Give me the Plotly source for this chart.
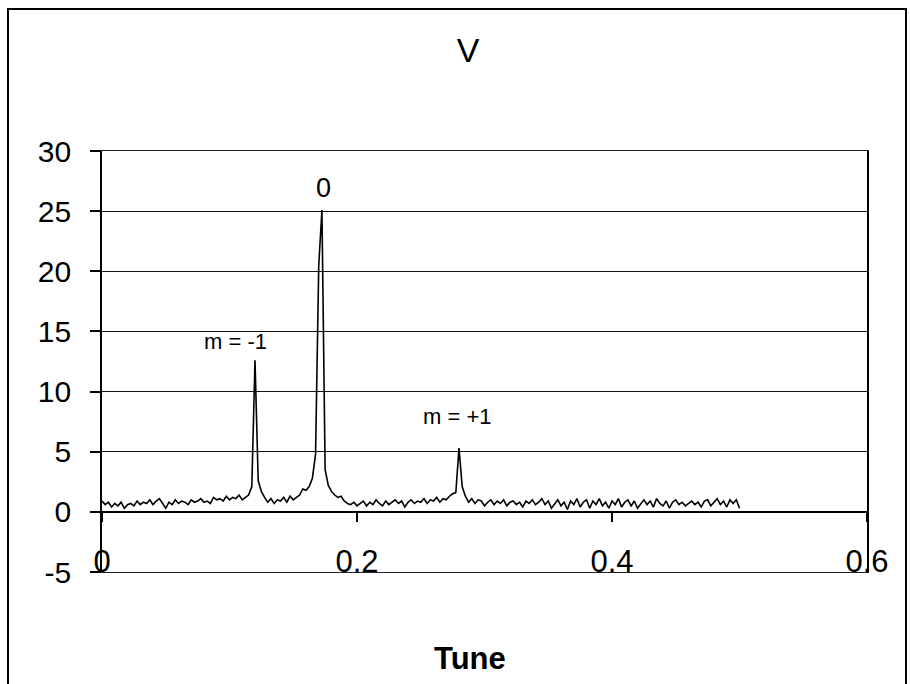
import plotly.graph_objects as go

# Tune spectrum: fractional tune vs. amplitude V
tune = [
    0.0000, 0.0025, 0.0050, 0.0075, 0.0100, 0.0125, 0.0150, 0.0175, 0.0200, 0.0225,
    0.0250, 0.0275, 0.0300, 0.0325, 0.0350, 0.0375, 0.0400, 0.0425, 0.0450, 0.0475,
    0.0500, 0.0525, 0.0550, 0.0575, 0.0600, 0.0625, 0.0650, 0.0675, 0.0700, 0.0725,
    0.0750, 0.0775, 0.0800, 0.0825, 0.0850, 0.0875, 0.0900, 0.0925, 0.0950, 0.0975,
    0.1000, 0.1025, 0.1050, 0.1075, 0.1100, 0.1125, 0.1150, 0.1175, 0.1200, 0.1225,
    0.1250, 0.1275, 0.1300, 0.1325, 0.1350, 0.1375, 0.1400, 0.1425, 0.1450, 0.1475,
    0.1500, 0.1525, 0.1550, 0.1575, 0.1600, 0.1625, 0.1650, 0.1675, 0.1700, 0.1725,
    0.1750, 0.1775, 0.1800, 0.1825, 0.1850, 0.1875, 0.1900, 0.1925, 0.1950, 0.1975,
    0.2000, 0.2025, 0.2050, 0.2075, 0.2100, 0.2125, 0.2150, 0.2175, 0.2200, 0.2225,
    0.2250, 0.2275, 0.2300, 0.2325, 0.2350, 0.2375, 0.2400, 0.2425, 0.2450, 0.2475,
    0.2500, 0.2525, 0.2550, 0.2575, 0.2600, 0.2625, 0.2650, 0.2675, 0.2700, 0.2725,
    0.2750, 0.2775, 0.2800, 0.2825, 0.2850, 0.2875, 0.2900, 0.2925, 0.2950, 0.2975,
    0.3000, 0.3025, 0.3050, 0.3075, 0.3100, 0.3125, 0.3150, 0.3175, 0.3200, 0.3225,
    0.3250, 0.3275, 0.3300, 0.3325, 0.3350, 0.3375, 0.3400, 0.3425, 0.3450, 0.3475,
    0.3500, 0.3525, 0.3550, 0.3575, 0.3600, 0.3625, 0.3650, 0.3675, 0.3700, 0.3725,
    0.3750, 0.3775, 0.3800, 0.3825, 0.3850, 0.3875, 0.3900, 0.3925, 0.3950, 0.3975,
    0.4000, 0.4025, 0.4050, 0.4075, 0.4100, 0.4125, 0.4150, 0.4175, 0.4200, 0.4225,
    0.4250, 0.4275, 0.4300, 0.4325, 0.4350, 0.4375, 0.4400, 0.4425, 0.4450, 0.4475,
    0.4500, 0.4525, 0.4550, 0.4575, 0.4600, 0.4625, 0.4650, 0.4675, 0.4700, 0.4725,
    0.4750, 0.4775, 0.4800, 0.4825, 0.4850, 0.4875, 0.4900, 0.4925, 0.4950, 0.4975,
    0.5000,
]

volts = [
    0.9, 0.6, 0.8, 0.4, 0.7, 0.5, 0.8, 0.3, 0.6, 0.7,
    0.5, 0.9, 0.6, 0.8, 0.7, 1.0, 0.6, 0.9, 1.1, 0.7,
    0.3, 0.8, 0.6, 1.0, 0.7, 0.9, 0.8, 0.6, 1.0, 0.8,
    0.9, 1.1, 0.8, 0.9, 0.7, 1.2, 1.0, 1.1, 0.9, 1.3,
    1.0, 1.2, 1.1, 1.4, 1.0, 1.2, 1.4, 2.1, 12.6, 2.6,
    1.7, 1.2, 0.8, 1.1, 0.7, 1.0, 0.9, 1.2, 0.8, 1.3,
    1.0, 1.2, 1.4, 1.9, 1.8, 2.1, 2.8, 4.8, 20.5, 25.1,
    3.5, 2.2, 1.7, 1.4, 1.2, 1.3, 0.9, 0.7, 0.6, 0.8,
    0.5, 0.7, 0.9, 0.5, 0.8, 0.6, 1.0, 0.7, 0.5, 0.9,
    0.6, 0.8, 1.0, 0.7, 0.9, 0.4, 0.8, 1.0, 0.7, 0.9,
    0.8, 1.1, 0.7, 1.0, 0.9, 1.2, 0.8, 1.1, 1.0, 1.3,
    1.5, 1.6, 5.3, 2.1, 1.3, 0.8, 1.1, 0.7, 1.0, 0.9,
    0.5, 0.8, 1.0, 0.6, 0.9, 0.7, 1.0, 0.5, 0.8, 0.9,
    0.6, 0.8, 0.4, 0.9, 0.7, 1.0, 0.6, 0.8, 1.1, 0.6,
    0.9, 0.3, 0.7, 1.0, 0.5, 0.8, 0.2, 0.9, 0.6, 1.1,
    0.4, 0.8, 1.0, 0.3, 0.9, 0.6, 1.1, 0.5, 0.8, 0.3,
    0.9, 0.6, 1.1, 0.4, 0.8, 1.0, 0.5, 0.9, 0.3, 0.7,
    1.0, 0.6, 0.9, 0.4, 1.1, 0.7, 0.5, 0.9, 0.3, 0.8,
    1.0, 0.6, 0.8, 0.5, 0.7, 0.9, 0.6, 0.8, 0.4, 0.9,
    1.0, 0.5, 0.8, 1.1, 0.6, 0.9, 0.4, 1.0, 0.7, 1.0,
    0.3,
]

x_ticks = [0, 0.2, 0.4, 0.6]
x_tick_text = ["0", "0.2", "0.4", "0.6"]
y_ticks = [-5, 0, 5, 10, 15, 20, 25, 30]
y_tick_text = ["-5", "0", "5", "10", "15", "20", "25", "30"]

# mode labels written next to the peaks
mode_labels = ["m = -1", "0", "m = +1"]
mode_x = [0.105, 0.1736, 0.2783]
mode_y = [14.2, 26.9, 7.9]
mode_size = [22, 27, 22]

FONT = "Liberation Sans, Arial, sans-serif"
W, H = 910, 684
L, R, T, B = 102, 43, 151, 112
plot_w, plot_h = W - L - R, H - T - B

fig = go.Figure()
fig.add_trace(go.Scatter(
    x=tune, y=volts, mode="lines",
    line=dict(color="black", width=1.6),
    showlegend=False, hoverinfo="x+y",
))
# empty trace so the V = 0 crossing axis gets drawn
fig.add_trace(go.Scatter(x=[], y=[], xaxis="x2", yaxis="y",
                         showlegend=False, hoverinfo="skip"))

annotations = [
    dict(x=mx, y=my, xref="x", yref="y", text=t, showarrow=False,
         font=dict(family=FONT, size=s, color="black"))
    for t, mx, my, s in zip(mode_labels, mode_x, mode_y, mode_size)
]
annotations.append(dict(
    x=(470 - L) / plot_w, y=(H - B - 658) / plot_h, xref="paper", yref="paper",
    text="<b>Tune</b>", showarrow=False, xanchor="center", yanchor="middle",
    font=dict(family=FONT, size=31, color="black"),
))

fig.update_layout(
    width=W, height=H,
    margin=dict(l=L, r=R, t=T, b=B),
    paper_bgcolor="white", plot_bgcolor="white",
    font=dict(family=FONT, color="black"),
    title=dict(text="V", x=468 / W, y=1 - 50 / H, xref="container", yref="container",
               xanchor="center", yanchor="middle",
               font=dict(family=FONT, size=34, color="black")),
    xaxis=dict(
        range=[0, 0.6], tickvals=x_ticks, ticktext=x_tick_text,
        ticks="", ticklabelstandoff=-38,
        showline=True, mirror=True, linecolor="#222", linewidth=1,
        showgrid=False, zeroline=False,
        tickfont=dict(family=FONT, size=31, color="black"),
    ),
    # axis line crossing at V = 0 with the outward tick marks
    xaxis2=dict(
        overlaying="x", anchor="free", position=5 / 35, matches="x",
        range=[0, 0.6], tickvals=x_ticks, ticks="outside", ticklen=9,
        tickwidth=1.5, tickcolor="black", showticklabels=False,
        showline=True, linecolor="black", linewidth=1.6,
        showgrid=False, zeroline=False,
    ),
    yaxis=dict(
        range=[-5, 30], tickvals=y_ticks, ticktext=y_tick_text,
        ticks="outside", ticklen=10, tickwidth=1.5, tickcolor="black",
        showline=True, mirror=True, linecolor="black", linewidth=1.6,
        showgrid=True, gridcolor="#111", gridwidth=1.2, zeroline=False,
        tickfont=dict(family=FONT, size=30, color="black"),
        ticklabelstandoff=13,
    ),
    annotations=annotations,
    shapes=[dict(
        type="rect", xref="paper", yref="paper",
        x0=(8 - L) / plot_w, x1=(906 - L) / plot_w,
        y0=(H - B - 700) / plot_h, y1=(H - B - 9) / plot_h,
        line=dict(color="black", width=2), fillcolor="rgba(0,0,0,0)", layer="below",
    )],
)

fig.write_html("out.html")
